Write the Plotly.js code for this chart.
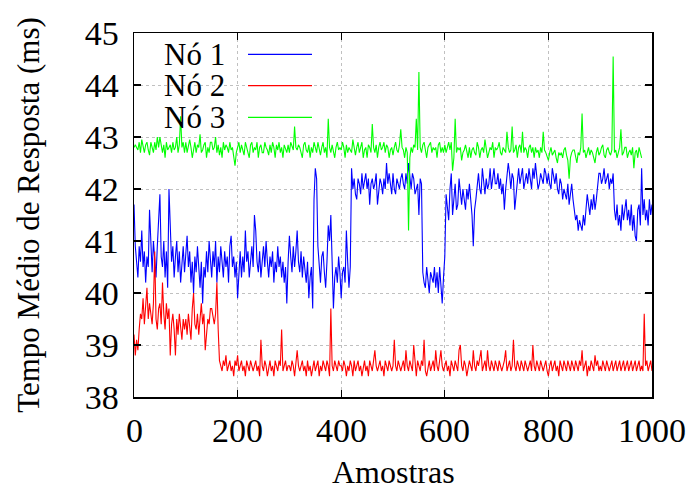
<!DOCTYPE html>
<html>
<head>
<meta charset="utf-8">
<script src="https://cdn.plot.ly/plotly-3.0.1.min.js"></script>
<style>html,body{margin:0;padding:0;background:#fff;}#chart{width:689px;height:489px;}</style>
</head>
<body>
<div id="chart"></div>
<script>
// Readings stored every 2.5 samples
const STEP = 2.5;

const seriesNames = ["Nó 1", "Nó 2", "Nó 3"];

const no1 = [
41.7,40.9,40.6,40.3,40.9,40.6,41.2,40.5,40.8,40.2,40.7,40.5,41.6,40.8,40.4,41.0,40.6,40.3,40.9,41.3,
41.9,40.7,40.5,41.0,40.3,40.8,40.1,42.0,41.3,40.6,40.9,40.3,40.7,41.0,40.4,40.8,40.2,40.6,40.9,40.4,
40.7,41.1,40.5,40.8,40.2,40.6,40.0,40.7,40.4,40.9,40.5,40.1,40.6,39.8,40.5,40.3,40.8,40.4,41.0,40.6,
40.3,40.8,40.5,41.0,40.2,40.7,40.4,40.9,40.6,40.3,40.8,40.5,40.7,40.2,40.9,41.1,40.5,40.7,40.3,40.6,
39.9,40.5,40.8,40.3,40.7,40.4,41.2,40.6,40.8,40.3,40.6,40.9,40.5,41.5,41.2,40.6,40.4,40.8,40.3,40.7,
40.9,40.5,41.0,40.6,40.3,40.7,40.5,40.8,40.2,40.6,40.4,40.9,40.5,40.7,40.3,40.6,40.2,40.5,39.8,40.6,
41.1,40.7,40.4,40.9,40.5,40.8,41.2,40.6,40.4,40.8,40.3,40.7,40.5,40.2,40.6,39.9,40.3,40.5,39.7,41.8,
42.4,42.2,40.9,40.5,40.2,40.7,40.8,40.4,40.1,40.6,41.3,41.0,41.5,40.6,39.7,40.3,40.5,40.2,40.7,40.4,
39.9,40.4,40.5,40.2,41.2,40.6,40.1,40.5,42.4,42.0,42.2,41.9,41.8,42.2,42.1,41.9,42.3,42.0,42.2,42.3,
42.0,42.2,41.7,42.1,42.2,42.0,42.1,42.3,41.7,42.0,42.2,42.1,41.9,42.2,42.0,42.5,42.1,42.3,42.1,41.9,
42.3,42.0,41.9,42.2,42.1,42.0,42.2,42.3,42.1,42.0,42.3,42.1,42.5,42.2,42.0,42.3,42.2,41.9,42.0,42.1,
41.5,42.2,42.1,40.4,40.2,40.1,40.5,40.3,40.0,40.4,40.3,40.2,40.5,40.1,40.4,40.0,40.5,40.2,39.8,40.3,
40.7,41.9,41.6,41.4,42.0,42.3,41.5,41.8,42.1,41.6,41.7,42.2,41.9,41.7,42.0,41.8,41.6,42.0,41.8,42.1,
41.8,41.5,40.9,41.6,41.8,42.1,42.3,42.0,41.9,42.4,42.2,41.9,42.2,42.0,42.1,42.4,42.0,42.2,42.4,42.1,
42.1,42.3,42.0,42.2,41.9,42.1,41.6,42.0,42.2,42.5,42.3,42.0,42.3,42.2,41.6,41.9,42.2,42.4,42.1,42.3,
42.4,42.0,42.2,42.3,42.1,42.4,42.2,42.0,42.4,42.2,42.5,42.3,42.0,42.1,42.3,42.2,42.1,42.4,42.3,42.1,
42.3,42.1,42.0,42.4,42.2,42.1,42.3,42.0,41.9,42.2,42.1,41.8,42.0,41.9,41.8,42.1,41.7,41.9,42.1,41.8,
41.6,41.4,41.5,41.2,41.4,41.3,41.2,41.5,41.3,41.6,41.9,41.7,41.5,41.8,41.6,41.9,41.6,41.8,42.0,42.3,
42.3,42.1,42.2,42.4,42.1,42.2,42.3,42.0,42.2,42.1,42.3,41.6,41.4,41.7,41.3,41.5,41.2,41.7,41.4,41.6,
41.8,41.4,41.6,41.3,41.7,41.2,41.5,41.1,41.0,41.6,41.7,41.3,42.4,41.5,41.8,41.4,41.6,41.3,41.8,41.5,
41.7
];

const no2 = [
39.2,38.8,39.1,38.9,39.3,39.6,39.5,39.9,39.4,39.7,40.1,39.5,39.8,39.6,39.4,39.8,40.8,39.5,39.3,39.7,
39.8,39.4,40.2,39.6,39.3,39.8,39.5,39.7,38.8,39.4,39.6,39.3,38.8,39.5,39.2,39.6,39.4,39.1,39.5,39.3,
39.5,39.2,39.6,39.4,39.1,39.7,40.0,39.4,39.3,39.6,39.2,39.5,39.8,39.4,39.6,38.9,39.3,39.5,39.4,39.7,
39.7,39.5,39.4,39.6,40.2,39.3,38.7,38.6,38.5,38.7,38.6,38.8,38.5,38.6,38.7,38.5,38.6,38.4,38.7,38.6,
38.8,38.5,38.6,38.7,38.5,38.6,38.4,38.7,38.6,38.5,38.7,38.6,38.5,38.6,38.7,38.5,38.6,38.4,39.1,38.6,
38.5,38.7,38.6,38.4,38.6,38.7,38.5,38.6,38.4,38.7,38.6,38.5,38.7,38.6,39.3,38.5,38.6,38.7,38.5,38.6,
38.6,38.5,38.7,38.6,38.4,38.7,38.9,38.6,38.5,38.6,38.7,38.5,38.6,38.4,38.7,38.5,38.6,38.4,38.6,38.7,
38.5,38.6,38.7,38.4,38.6,38.5,38.7,38.6,38.5,38.7,38.6,38.4,39.7,38.6,38.5,38.7,38.6,38.5,38.7,38.6,
38.6,38.5,38.7,38.6,38.4,38.6,38.5,38.7,38.6,38.4,38.7,38.5,38.6,38.7,38.5,38.6,38.4,38.6,38.7,38.5,
38.6,38.4,38.7,38.6,38.5,38.7,38.9,38.6,38.5,38.6,38.7,38.5,38.6,38.4,38.7,38.6,38.5,38.7,38.6,38.5,
38.6,39.1,38.6,38.5,38.7,38.6,38.5,38.6,38.7,38.5,38.9,38.6,38.5,38.7,38.6,38.5,39.0,38.6,38.4,38.7,
38.6,38.5,38.7,38.6,39.1,38.5,38.4,38.6,38.7,38.5,38.6,38.7,38.5,38.9,38.6,38.5,38.7,38.9,38.6,38.5,
38.6,38.7,38.5,38.6,38.4,38.7,38.6,38.5,38.7,38.6,38.5,38.9,39.0,38.6,38.5,38.7,38.6,38.4,38.6,38.7,
38.6,38.5,38.9,38.6,38.5,38.7,38.6,38.8,38.9,38.5,38.6,38.7,38.5,38.9,38.6,38.5,38.7,38.6,38.5,38.7,
38.6,38.5,38.7,38.6,38.5,38.6,38.7,38.9,38.5,38.6,38.7,38.5,38.6,39.1,38.6,38.5,38.7,38.6,38.5,38.7,
38.6,38.5,38.7,38.6,38.5,38.6,38.7,38.5,39.0,38.6,38.5,38.7,38.6,38.5,38.7,38.6,38.5,38.6,38.7,38.5,
38.4,38.6,38.7,38.5,38.6,38.7,38.5,38.6,38.4,38.7,38.6,38.5,38.7,38.6,38.5,38.7,38.6,38.5,38.7,38.6,
38.5,38.7,38.6,38.5,38.7,38.6,38.9,38.5,38.6,38.7,38.4,38.6,38.5,38.7,38.6,38.5,38.8,38.6,38.7,38.5,
38.6,38.5,38.7,38.6,38.5,38.7,38.6,38.5,38.6,38.7,38.5,38.6,38.7,38.5,38.6,38.7,38.5,38.6,38.7,38.5,
38.6,38.7,38.5,38.6,38.7,38.5,38.6,38.7,38.5,38.6,38.7,38.5,38.6,38.5,39.6,38.6,38.7,38.5,38.6,38.7,
38.5
];

const no3 = [
42.8,42.85,42.8,42.75,42.9,42.7,42.95,42.8,42.7,42.85,42.9,42.75,42.65,42.9,42.8,42.7,42.9,42.75,43.0,42.8,
43.0,42.8,42.7,42.85,42.6,42.9,42.75,42.8,42.85,42.7,42.9,42.75,42.8,43.0,42.7,42.85,43.4,42.8,42.9,42.7,
42.9,42.7,42.85,42.95,42.8,42.6,42.75,42.9,42.7,42.85,42.8,43.05,42.7,42.75,42.85,42.9,42.6,42.8,42.7,42.9,
42.9,42.75,42.8,43.0,42.7,42.85,42.65,42.8,42.6,42.9,42.75,42.85,42.8,42.7,42.9,42.75,42.8,42.6,42.45,42.7,
42.8,42.9,42.7,42.85,42.75,42.65,42.9,42.8,42.75,42.6,42.85,42.9,42.7,42.8,42.75,42.9,42.6,42.8,42.85,42.7,
42.7,42.9,42.8,42.75,42.65,42.85,42.7,42.9,42.8,42.6,42.85,42.75,42.9,42.7,42.8,42.6,42.85,42.75,42.7,42.85,
42.7,42.9,42.8,42.75,43.2,42.8,42.75,42.85,42.8,42.7,42.6,42.85,42.9,42.75,42.7,42.85,42.6,42.8,42.7,42.9,
42.8,42.7,42.9,42.75,42.65,42.8,42.9,42.7,42.8,42.6,43.35,42.8,42.7,42.85,42.75,42.6,42.8,42.9,42.75,42.8,
42.75,42.9,42.8,42.6,42.85,42.7,42.8,42.75,42.7,42.95,42.8,42.65,42.8,42.9,42.7,42.8,42.9,42.6,42.75,42.8,
42.6,42.85,42.8,42.7,43.25,42.8,42.7,42.85,42.6,42.8,42.9,42.75,42.8,42.9,42.7,42.85,42.8,42.6,42.75,42.8,
42.65,42.8,42.9,42.75,42.7,42.85,43.15,42.8,42.75,42.6,42.8,42.7,41.2,42.6,42.8,42.7,42.85,42.8,43.35,42.75,
44.25,42.8,42.7,42.85,42.9,42.75,42.6,42.8,42.85,42.9,42.7,42.8,42.75,42.8,42.6,42.85,42.9,42.7,42.8,42.7,
42.85,42.7,42.8,42.9,42.75,42.9,42.35,42.6,43.35,42.7,42.8,42.75,42.8,42.55,42.7,42.75,42.85,42.7,42.6,42.8,
42.6,42.75,42.8,42.7,42.65,42.9,42.8,42.6,42.75,42.8,42.7,42.95,42.8,42.6,42.7,42.8,42.75,42.9,42.6,42.8,
42.75,42.8,42.9,42.7,42.65,42.8,42.75,42.7,43.1,42.8,42.7,42.75,43.2,42.7,42.75,42.85,42.6,42.8,42.85,42.7,
43.1,42.7,42.8,42.75,42.6,42.8,42.85,42.7,42.8,42.6,42.8,42.7,42.75,42.6,42.8,42.7,43.1,42.75,42.7,42.6,
42.55,42.7,42.8,42.65,42.7,42.75,42.6,42.5,42.7,42.65,42.7,42.6,42.75,42.8,42.65,42.55,42.2,42.6,42.7,42.75,
42.75,42.6,42.5,42.7,42.65,42.8,43.45,42.7,42.75,42.6,42.7,42.8,42.65,42.75,42.7,42.6,42.5,42.7,42.8,42.65,
42.7,42.8,42.85,42.65,42.6,42.75,42.8,42.7,42.65,42.75,44.55,42.7,42.75,42.6,42.7,42.8,43.15,42.65,42.7,42.8,
42.8,42.6,42.7,42.75,42.65,42.8,42.4,42.7,42.75,42.6,42.8,42.7,42.6
];

const colors = ["#0000ff", "#ff0000", "#00ff00"];
const xTicks = [0, 200, 400, 600, 800, 1000];
const yTicks = [38, 39, 40, 41, 42, 43, 44, 45];
const xTitle = "Amostras";
const yTitle = "Tempo Médio de Resposta (ms)";

const sampleIdx = arr => arr.map((_, i) => i * STEP);
const all = [no1, no2, no3];

const traces = all.map((ys, k) => ({
  x: sampleIdx(ys), y: ys, type: "scatter", mode: "lines",
  name: seriesNames[k], line: {color: colors[k], width: 1.1},
  showlegend: false, hoverinfo: "skip"
}));

const FONT = "Liberation Serif, Times New Roman, serif";

// legend drawn gnuplot-style: text right-aligned, line sample to the right
const legendY = [0.9415, 0.8552, 0.7684];
const annotations = seriesNames.map((n, k) => ({
  xref: "paper", yref: "paper", x: 0.1795, y: legendY[k],
  xanchor: "right", yanchor: "middle", text: n, showarrow: false,
  font: {family: FONT, size: 31, color: "#000"}
}));
// x tick labels placed on the x axis scale
xTicks.forEach(v => annotations.push({
  xref: "x", yref: "paper", x: v, y: -0.0907, xanchor: "center", yanchor: "middle",
  text: String(v), showarrow: false, font: {family: FONT, size: 34, color: "#000"}
}));
annotations.push({
  xref: "paper", yref: "paper", x: 0.5, y: -0.206, xanchor: "center", yanchor: "middle",
  text: xTitle, showarrow: false, font: {family: FONT, size: 32, color: "#000"}
});

const shapes = [{
  type: "rect", xref: "paper", yref: "paper", x0: 0.037, x1: 0.378, y0: 0.73, y1: 0.995,
  fillcolor: "#fff", line: {width: 0}, layer: "between"
}].concat(seriesNames.map((n, k) => ({
  type: "line", xref: "paper", yref: "paper", x0: 0.2201, x1: 0.3436,
  y0: legendY[k], y1: legendY[k], line: {color: colors[k], width: 1.3}
})));

const axisCommon = {
  showline: true, linecolor: "#000", linewidth: 1.5, mirror: "ticks",
  ticks: "inside", ticklen: 7, tickcolor: "#000", tickwidth: 1.2,
  showgrid: true, gridcolor: "#c0c0c0", griddash: "dot", gridwidth: 1,
  zeroline: false, tickfont: {family: FONT, size: 34, color: "#000"}
};

const layout = {
  width: 689, height: 489,
  margin: {l: 134, r: 37, t: 33, b: 92},
  paper_bgcolor: "#fff", plot_bgcolor: "#fff",
  showlegend: false,
  xaxis: Object.assign({}, axisCommon, {
    range: [0, 1000], tickvals: xTicks, showticklabels: false
  }),
  yaxis: Object.assign({}, axisCommon, {
    range: [38, 45], tickvals: yTicks, ticktext: yTicks.map(String),
    ticklabelstandoff: 7,
    title: {text: yTitle, font: {family: FONT, size: 31, color: "#000"}, standoff: 36}
  }),
  annotations: annotations,
  shapes: shapes
};

Plotly.newPlot("chart", traces, layout, {staticPlot: true, displayModeBar: false});
</script>
</body>
</html>
